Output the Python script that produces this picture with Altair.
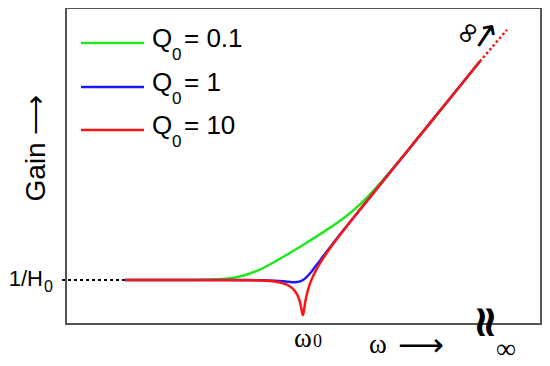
import altair as alt
import pandas as pd

# Series (legend labels and colours)
q_values = ["0.1", "1", "10"]
colors = ["#22e622", "#1a1aff", "#ff1414"]

# x: log10(omega/omega0), y: log10(gain*H0)
green_x = [-3.14, -2.5, -2.0, -1.75, -1.5, -1.25, -1.0, -0.75, -0.5, -0.25, 0.0, 0.25, 0.5, 0.75, 1.0, 1.25, 1.5, 2.0, 2.5, 3.12]
green_y = [0.0, 0.0002, 0.002, 0.0066, 0.0203, 0.0586, 0.1484, 0.3064, 0.5169, 0.7532, 1.0, 1.2532, 1.5169, 1.8064, 2.1484, 2.5586, 3.0203, 4.0022, 5.0, 6.24]
blue_x = [-3.14, -2.0, -1.0, -0.75, -0.5, -0.35, -0.25, -0.15, -0.05, 0.0, 0.05, 0.15, 0.25, 0.35, 0.5, 0.75, 1.0, 1.5, 2.0, 2.5, 3.12]
blue_y = [0.0, 0.0, -0.0022, -0.0067, -0.0205, -0.0378, -0.0529, -0.0625, -0.0388, 0.0, 0.0613, 0.2375, 0.4471, 0.6622, 0.9795, 1.493, 1.9978, 3.0, 4.0, 5.0, 6.24]
red_x = [-3.14, -2.0, -1.0, -0.75, -0.5, -0.35, -0.25, -0.15, -0.1, -0.07, -0.05, -0.03, -0.02, -0.01, 0.0, 0.01, 0.02, 0.03, 0.05, 0.07, 0.1, 0.15, 0.25, 0.35, 0.5, 0.75, 1.0, 1.5, 2.0, 2.5, 3.12]
red_y = [0.0, 0.0, -0.0044, -0.014, -0.0455, -0.096, -0.1636, -0.2977, -0.4231, -0.54, -0.6494, -0.798, -0.8866, -0.968, -1.0, -0.948, -0.8465, -0.7378, -0.5495, -0.40, -0.2231, 0.0023, 0.3363, 0.604, 0.9542, 1.4857, 1.9957, 3.0, 4.0, 5.0, 6.24]

# dotted continuations
red_ext_x = [3.12, 3.6]
red_ext_y = [6.24, 7.15]
ref_x = [-4.25, -3.14]
ref_y = [0.0, 0.0]

X_DOMAIN = [-4.18, 4.2]
Y_DOMAIN = [-1.257, 7.77]

xs = alt.Scale(domain=X_DOMAIN, nice=False, zero=False)
ys = alt.Scale(domain=Y_DOMAIN, nice=False, zero=False)

series_names = [f"Q0 = {q}" for q in q_values]
rows = []
for name, xv, yv in zip(series_names, [green_x, blue_x, red_x], [green_y, blue_y, red_y]):
    for a, b in zip(xv, yv):
        rows.append({"x": a, "y": b, "s": name})
df = pd.DataFrame(rows)

curves = alt.Chart(df).mark_line(strokeWidth=2.5, interpolate="monotone").encode(
    x=alt.X("x:Q", scale=xs, axis=None),
    y=alt.Y("y:Q", scale=ys, axis=None),
    color=alt.Color("s:N", scale=alt.Scale(domain=series_names, range=colors), legend=None),
    detail="s:N",
)

ext = alt.Chart(pd.DataFrame({"x": red_ext_x, "y": red_ext_y})).mark_line(
    strokeWidth=2.5, color=colors[2], strokeDash=[2.5, 2.5]
).encode(x=alt.X("x:Q", scale=xs, axis=None), y=alt.Y("y:Q", scale=ys, axis=None))

ref = alt.Chart(pd.DataFrame({"x": ref_x, "y": ref_y})).mark_line(
    strokeWidth=2, color="black", strokeDash=[3, 3]
).encode(x=alt.X("x:Q", scale=xs, axis=None), y=alt.Y("y:Q", scale=ys, axis=None))

one = pd.DataFrame({"a": [0]})


def label(text, x, y, size, font="Liberation Sans", angle=0, align="center",
          baseline="middle", weight="normal", color="black"):
    return alt.Chart(one).mark_text(
        text=text, fontSize=size, font=font, angle=angle, align=align,
        baseline=baseline, fontWeight=weight, color=color
    ).encode(x=alt.value(x), y=alt.value(y))


layers = [curves, ext, ref]

# legend
for i, (q, c) in enumerate(zip(q_values, colors)):
    ly = [35, 79, 122][i]
    layers.append(alt.Chart(one).mark_rule(strokeWidth=2.5, color=c).encode(
        x=alt.value(15), x2=alt.value(78), y=alt.value(ly)))
    layers.append(label("Q", 86, ly + 4, 26, align="left", baseline="alphabetic"))
    layers.append(label("0", 106, ly + 17, 17, align="left", baseline="alphabetic"))
    layers.append(label(f"= {q}", 118, ly + 4, 26, align="left", baseline="alphabetic"))

# axis annotations
layers += [
    label("Gain \u27f6", -29, 140, 28, angle=270),
    label("1/H", -23, 278, 22, align="right", baseline="alphabetic"),
    label("0", -22, 284, 16, align="left", baseline="alphabetic"),
    label("\u03c9", 237, 339, 27, font="Liberation Serif", baseline="alphabetic"),
    label("0", 247, 339, 18, font="Liberation Serif", align="left", baseline="alphabetic"),
    label("\u03c9", 303, 345, 27, font="Liberation Serif", align="left", baseline="alphabetic"),
    label("\u27f6", 332, 338, 32, font="DejaVu Sans", align="left"),
    label("\u2240", 415, 315, 44, font="DejaVu Sans", weight="bold"),
    label("\u2240", 424, 315, 44, font="DejaVu Sans", weight="bold"),
    label("\u221e", 440, 342, 28, font="Liberation Serif"),
    label("\u221e", 402, 25, 30, font="DejaVu Sans", angle=305),
    label("\u2192", 420, 28, 34, font="DejaVu Sans", angle=304),
]

chart = alt.layer(*layers).properties(
    width=475, height=316,
    autosize=alt.AutoSizeParams(type="none"),
    padding={"left": 58, "top": 0, "right": 1, "bottom": 40},
).configure_view(stroke="#555555", strokeWidth=2)

chart.save("out.html", embed_options={"renderer": "svg", "actions": False})
